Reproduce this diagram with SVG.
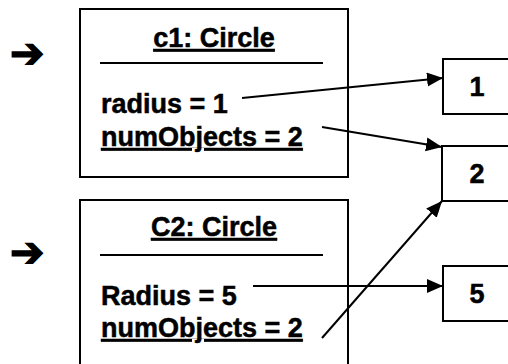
<svg xmlns="http://www.w3.org/2000/svg" width="508" height="364" viewBox="0 0 508 364">
<style>
.box{fill:#fff;stroke:#000;stroke-width:2}
.t{font-family:"Liberation Sans",Arial,sans-serif;font-weight:bold;font-size:27px;fill:#000;stroke:#000;stroke-width:0.5}
.u{text-decoration:underline}
.div{stroke:#000;stroke-width:2}
.conn{stroke:#000;stroke-width:2;fill:none;marker-end:url(#ah)}
.ptr{font-family:"DejaVu Sans",sans-serif;font-weight:bold;font-size:41px;fill:#000;stroke:#000;stroke-width:1.5}
</style>
<defs>
<marker id="ah" markerUnits="userSpaceOnUse" markerWidth="17" markerHeight="15" refX="16" refY="7" orient="auto">
<path d="M0,0 L16,7 L0,14 z" fill="#000"/>
</marker>
</defs>
<rect width="508" height="364" fill="#fff"/>
<g id="ptr1"><text class="ptr" x="10" y="67">➔</text></g>
<g id="ptr2"><text class="ptr" x="10" y="266">➔</text></g>
<g id="c1">
<rect class="box" x="80" y="9" width="268" height="168"/>
<text class="t u" x="214" y="47" text-anchor="middle">c1: Circle</text>
<line class="div" x1="100" y1="63" x2="323" y2="63"/>
<text class="t" x="101" y="113">radius = 1</text>
<text class="t u" x="101" y="146">numObjects = 2</text>
</g>
<g id="c2">
<rect class="box" x="80" y="200" width="268" height="180"/>
<text class="t u" x="214" y="236" text-anchor="middle">C2: Circle</text>
<line class="div" x1="100" y1="255" x2="323" y2="255"/>
<text class="t" x="101" y="305">Radius = 5</text>
<text class="t u" x="101" y="337">numObjects = 2</text>
</g>
<g id="v1">
<rect class="box" x="443" y="59" width="80" height="55"/>
<text class="t" x="477" y="96" text-anchor="middle">1</text>
</g>
<g id="v2">
<rect class="box" x="442" y="146" width="80" height="55"/>
<text class="t" x="477" y="183" text-anchor="middle">2</text>
</g>
<g id="v5">
<rect class="box" x="443" y="266" width="80" height="55"/>
<text class="t" x="477" y="303" text-anchor="middle">5</text>
</g>
<g id="connectors">
<line class="conn" x1="242" y1="98" x2="443" y2="78"/>
<line class="conn" x1="322" y1="127" x2="442" y2="147"/>
<line class="conn" x1="253" y1="286" x2="443" y2="286"/>
<line class="conn" x1="322" y1="338" x2="442" y2="201"/>
</g>
</svg>
